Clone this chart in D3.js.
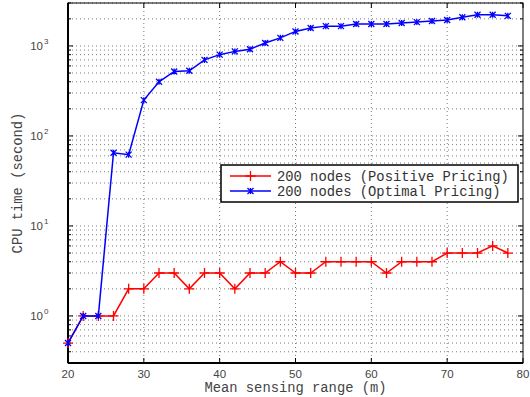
<!DOCTYPE html>
<html>
<head>
<meta charset="utf-8">
<script src="https://cdn.jsdelivr.net/npm/d3@7"></script>
<style>
  body { margin: 0; background: #fff; }
  svg { display: block; }
</style>
</head>
<body>
<div id="chart"></div>
<script>
/* global d3 */

// data
const ranges = [20, 22, 24, 26, 28, 30, 32, 34, 36, 38, 40, 42, 44, 46, 48,
  50, 52, 54, 56, 58, 60, 62, 64, 66, 68, 70, 72, 74, 76, 78]
const positivePricing = [0.5, 1, 1, 1, 2, 2, 3, 3, 2, 3, 3, 2, 3, 3, 4,
  3, 3, 4, 4, 4, 4, 3, 4, 4, 4, 5, 5, 5, 6, 5]
const optimalPricing = [0.5, 1, 1, 65, 62, 250, 400, 520, 530, 700, 800, 870, 920, 1080, 1230,
  1450, 1580, 1660, 1660, 1750, 1750, 1750, 1800, 1840, 1890, 1940, 2080, 2220, 2220, 2160]
const xTicks = [20, 30, 40, 50, 60, 70, 80]
const yDecades = [0, 1, 2, 3]
const seriesNames = ['200 nodes (Positive Pricing)', '200 nodes (Optimal Pricing)']

// canvas
const width = 530,
  height = 397,
  plotLeft = 68,
  plotRight = 523,
  plotTop = 3,
  plotBottom = 363

const svg = d3.select('#chart')
  .append('svg')
  .attr('width', width)
  .attr('height', height)
  .style('background', '#fff')

const x = d3.scaleLinear().domain([20, 80]).range([plotLeft, plotRight])
const y = d3.scaleLog().domain([0.3, 3000]).range([plotBottom, plotTop])

// minor values for grid: 0.3 .. 3000
let minor = []
for (let e = -1; e <= 3; e++) {
  for (let m = 1; m <= 9; m++) {
    let v = m * Math.pow(10, e)
    if (v >= 0.3 - 1e-9 && v <= 3000 + 1e-9) minor.push({ v: v, major: m === 1 })
  }
}

const grid = svg.append('g')

grid.selectAll('.hgrid')
  .data(minor)
  .enter()
  .append('line')
  .attr('x1', plotLeft)
  .attr('x2', plotRight)
  .attr('y1', d => y(d.v))
  .attr('y2', d => y(d.v))
  .attr('stroke', '#444')
  .attr('stroke-width', 1)
  .attr('stroke-dasharray', '1,3')
  .attr('opacity', 0.7)

grid.selectAll('.vgrid')
  .data(xTicks.slice(1, -1))
  .enter()
  .append('line')
  .attr('x1', d => x(d))
  .attr('x2', d => x(d))
  .attr('y1', plotTop)
  .attr('y2', plotBottom)
  .attr('stroke', '#444')
  .attr('stroke-width', 1)
  .attr('stroke-dasharray', '1,3')
  .attr('opacity', 0.7)

// inward ticks on all four sides
const ticks = svg.append('g').attr('stroke', '#000').attr('stroke-width', 1)
minor.forEach(d => {
  let len = d.major ? 5 : 3
  ticks.append('line').attr('x1', plotLeft).attr('x2', plotLeft + len).attr('y1', y(d.v)).attr('y2', y(d.v))
  ticks.append('line').attr('x1', plotRight).attr('x2', plotRight - len).attr('y1', y(d.v)).attr('y2', y(d.v))
})
xTicks.forEach(v => {
  ticks.append('line').attr('x1', x(v)).attr('x2', x(v)).attr('y1', plotBottom).attr('y2', plotBottom - 5)
  ticks.append('line').attr('x1', x(v)).attr('x2', x(v)).attr('y1', plotTop).attr('y2', plotTop + 5)
})

// frame
svg.append('rect')
  .attr('x', plotLeft)
  .attr('y', plotTop)
  .attr('width', plotRight - plotLeft)
  .attr('height', plotBottom - plotTop)
  .attr('fill', 'none')
  .attr('stroke', '#000')
  .attr('stroke-width', 1)
svg.append('line')
  .attr('x1', plotLeft).attr('x2', plotRight)
  .attr('y1', plotBottom).attr('y2', plotBottom)
  .attr('stroke', '#000').attr('stroke-width', 2)
svg.append('line')
  .attr('x1', plotLeft).attr('x2', plotLeft)
  .attr('y1', plotTop).attr('y2', plotBottom)
  .attr('stroke', '#000').attr('stroke-width', 2)

// tick labels
svg.append('g')
  .selectAll('text')
  .data(xTicks)
  .enter()
  .append('text')
  .attr('x', d => x(d))
  .attr('y', plotBottom + 15)
  .attr('text-anchor', 'middle')
  .attr('font-family', 'Liberation Sans, Arial, sans-serif')
  .attr('font-size', 11.5)
  .attr('fill', '#444')
  .text(d => d)

svg.append('g')
  .selectAll('text')
  .data(yDecades)
  .enter()
  .append('text')
  .attr('x', 43)
  .attr('y', d => y(Math.pow(10, d)) + 4)
  .attr('text-anchor', 'end')
  .attr('font-family', 'Liberation Sans, Arial, sans-serif')
  .attr('font-size', 11.5)
  .attr('fill', '#444')
  .text('10')
svg.append('g')
  .selectAll('text')
  .data(yDecades)
  .enter()
  .append('text')
  .attr('x', 44)
  .attr('y', d => y(Math.pow(10, d)) - 2)
  .attr('font-family', 'Liberation Sans, Arial, sans-serif')
  .attr('font-size', 8)
  .attr('fill', '#444')
  .text(d => d)

// axis titles
svg.append('text')
  .attr('x', (plotLeft + plotRight) / 2)
  .attr('y', 392)
  .attr('text-anchor', 'middle')
  .attr('font-family', 'Courier New, Liberation Mono, monospace')
  .attr('font-size', 13.8)
  .attr('fill', '#444')
  .text('Mean sensing range (m)')

svg.append('text')
  .attr('transform', `translate(22, ${(plotTop + plotBottom) / 2}) rotate(-90)`)
  .attr('text-anchor', 'middle')
  .attr('font-family', 'Courier New, Liberation Mono, monospace')
  .attr('font-size', 13.8)
  .attr('fill', '#444')
  .text('CPU time (second)')

// series
const line = d3.line()
  .x(d => x(d[0]))
  .y(d => y(d[1]))

const plus = (g, cx, cy, r) => g.append('path')
  .attr('d', `M${cx - r},${cy}H${cx + r}M${cx},${cy - r}V${cy + r}`)
const cross = (g, cx, cy, r) => g.append('path')
  .attr('d', `M${cx - r},${cy - r}L${cx + r},${cy + r}M${cx - r},${cy + r}L${cx + r},${cy - r}M${cx},${cy - r}V${cy + r}`)

let series = [
  { values: positivePricing, color: '#ff0000', marker: plus, r: 5 },
  { values: optimalPricing, color: '#0000ff', marker: cross, r: 3 }
]

series.forEach(s => {
  let pts = ranges.map((r, i) => [r, s.values[i]])
  svg.append('path')
    .datum(pts)
    .attr('d', line)
    .attr('fill', 'none')
    .attr('stroke', s.color)
    .attr('stroke-width', 1.5)
  let g = svg.append('g')
    .attr('stroke', s.color)
    .attr('stroke-width', 1.3)
    .attr('fill', 'none')
  pts.forEach(p => s.marker(g, x(p[0]), y(p[1]), s.r))
})

// legend
const legend = svg.append('g')
legend.append('rect')
  .attr('x', 221)
  .attr('y', 165)
  .attr('width', 297)
  .attr('height', 37)
  .attr('fill', '#fff')
  .attr('stroke', '#000')
  .attr('stroke-width', 1.5)

series.forEach((s, i) => {
  let ly = 176 + i * 15
  legend.append('line')
    .attr('x1', 230).attr('x2', 271)
    .attr('y1', ly).attr('y2', ly)
    .attr('stroke', s.color)
    .attr('stroke-width', 1.5)
  let g = legend.append('g').attr('stroke', s.color).attr('stroke-width', 1.3)
  s.marker(g, 250.5, ly, s.r)
  legend.append('text')
    .attr('x', 277)
    .attr('y', ly + 4.5)
    .attr('font-family', 'Courier New, Liberation Mono, monospace')
    .attr('font-size', 13.8)
    .attr('fill', '#333')
    .text(seriesNames[i])
})
</script>
</body>
</html>
